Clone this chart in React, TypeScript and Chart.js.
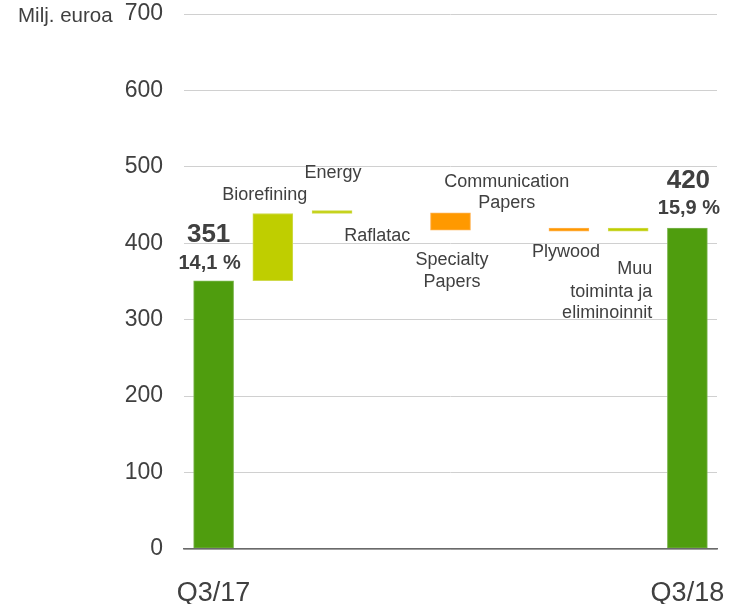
import React, { useEffect, useRef } from 'react';
import { Chart, registerables } from 'chart.js';

Chart.register(...registerables);

// ---- data ----
const categories = [
  'Q3/17',
  'Biorefining',
  'Energy',
  'Raflatac',
  'Specialty Papers',
  'Communication Papers',
  'Plywood',
  'Muu toiminta ja eliminoinnit',
  'Q3/18',
];
const xTickLabels = ['Q3/17', '', '', '', '', '', '', '', 'Q3/18'];
const totals: (number | null)[] = [351, null, null, null, null, null, null, null, 420];
const deltas: (number | null)[] = [null, 88, 1, 0, -23, 0, -1, 4, null];
const totalValueLabels = ['351', '', '', '', '', '', '', '', '420'];
const marginLabels = ['14,1 %', '', '', '', '', '', '', '', '15,9 %'];
const categoryLabelLines: string[][] = [
  [],
  ['Biorefining'],
  ['Energy'],
  ['Raflatac'],
  ['Specialty', 'Papers'],
  ['Communication', 'Papers'],
  ['Plywood'],
  ['Muu', 'toiminta ja', 'eliminoinnit'],
  [],
];
const yMin = 0;
const yMax = 700;
const yStep = 100;
const unitLabel = 'Milj. euroa';

// ---- styles ----
const FONT = "'Liberation Sans', Arial, sans-serif";
const TEXT = '#404040';
const C_TOTAL = '#4F9D0E';
const C_UP = '#BFCE00';
const C_DOWN = '#FF9900';
const B_TOTAL = '#7DB650';
const B_UP = '#CFDA4D';
const B_DOWN = '#FFB04D';

// label placement (pixel offsets from the category centre / bar edge)
type Place = { anchor: 'top' | 'bottom'; dx: number; dy: number[]; align: CanvasTextAlign };
const categoryLabelPlace: (Place | null)[] = [
  null,
  { anchor: 'top', dx: -8, dy: [-13], align: 'center' },
  { anchor: 'top', dx: 1, dy: [-35], align: 'center' },
  { anchor: 'top', dx: -14, dy: [28.5], align: 'center' },
  { anchor: 'bottom', dx: 1.5, dy: [35, 57], align: 'center' },
  { anchor: 'bottom', dx: -3, dy: [-43, -22], align: 'center' },
  { anchor: 'bottom', dx: -3, dy: [26], align: 'center' },
  { anchor: 'bottom', dx: 24, dy: [43, 66, 87], align: 'right' },
  null,
];
const totalLabelPlace = [
  { dx: -5, dyValue: -38.5, dxMargin: -4, dyMargin: -11.5 },
  null, null, null, null, null, null, null,
  { dx: 1, dyValue: -40, dxMargin: 1.5, dyMargin: -14 },
];

function buildBars() {
  const bars: ([number, number] | null)[] = [];
  const colors: string[] = [];
  const borders: string[] = [];
  let running = 0;
  for (let i = 0; i < categories.length; i++) {
    const t = totals[i];
    const d = deltas[i];
    if (t !== null && t !== undefined) {
      bars.push([0, t]);
      colors.push(C_TOTAL);
      borders.push(B_TOTAL);
      running = t;
    } else if (d !== null && d !== undefined && d !== 0) {
      bars.push([running, running + d]);
      colors.push(d > 0 ? C_UP : C_DOWN);
      borders.push(d > 0 ? B_UP : B_DOWN);
      running += d;
    } else {
      bars.push(null);
      colors.push(C_UP);
      borders.push(B_UP);
    }
  }
  return { bars, colors, borders };
}

function runningLevels() {
  const lv: { top: number; bottom: number }[] = [];
  let running = 0;
  for (let i = 0; i < categories.length; i++) {
    const t = totals[i];
    const d = deltas[i];
    if (t !== null && t !== undefined) {
      lv.push({ top: t, bottom: 0 });
      running = t;
    } else {
      const dd = d ?? 0;
      const a = running;
      const b = running + dd;
      lv.push({ top: Math.max(a, b), bottom: Math.min(a, b) });
      running = b;
    }
  }
  return lv;
}

const labelsPlugin = {
  id: 'wfLabels',
  afterDatasetsDraw(chart: any) {
    const ctx = chart.ctx as CanvasRenderingContext2D;
    const xs = chart.scales.x;
    const ys = chart.scales.y;
    const levels = runningLevels();
    ctx.save();
    ctx.fillStyle = TEXT;
    ctx.textBaseline = 'alphabetic';

    // unit label
    ctx.font = `20.5px ${FONT}`;
    ctx.textAlign = 'left';
    ctx.fillText(unitLabel, 18, ys.getPixelForValue(yMax) + 8);

    for (let i = 0; i < categories.length; i++) {
      const cx = xs.getPixelForValue(i);
      const place = categoryLabelPlace[i];
      const lines = categoryLabelLines[i];
      if (place && lines.length) {
        const v = place.anchor === 'top' ? levels[i].top : levels[i].bottom;
        const y0 = ys.getPixelForValue(v);
        ctx.font = `18px ${FONT}`;
        ctx.textAlign = place.align;
        lines.forEach((ln, k) => ctx.fillText(ln, cx + place.dx, y0 + place.dy[k]));
      }
      const tp = totalLabelPlace[i];
      if (tp) {
        const yTop = ys.getPixelForValue(levels[i].top);
        ctx.textAlign = 'center';
        ctx.font = `bold 26px ${FONT}`;
        ctx.fillText(totalValueLabels[i], cx + tp.dx, yTop + tp.dyValue);
        ctx.font = `bold 20px ${FONT}`;
        ctx.fillText(marginLabels[i], cx + tp.dxMargin, yTop + tp.dyMargin);
      }
    }
    ctx.restore();
  },
};

export default function App() {
  const ref = useRef<HTMLCanvasElement>(null);
  useEffect(() => {
    if (!ref.current) return;
    const { bars, colors, borders } = buildBars();
    const chart = new Chart(ref.current, {
      type: 'bar',
      data: {
        labels: categories,
        datasets: [
          {
            data: bars as any,
            backgroundColor: colors,
            borderColor: borders,
            borderWidth: 1,
            barThickness: 40,
            minBarLength: 3,
            borderSkipped: false,
          },
        ],
      },
      options: {
        animation: false,
        responsive: false,
        maintainAspectRatio: false,
        layout: { padding: { top: 14, right: 13, left: 0, bottom: 0 } },
        plugins: { legend: { display: false }, tooltip: { enabled: false } },
        scales: {
          x: {
            grid: { display: false, drawTicks: false },
            border: { display: true, color: '#6a6a6a', width: 1.5, z: 1 },
            ticks: {
              autoSkip: false,
              maxRotation: 0,
              padding: 28,
              color: TEXT,
              font: { family: FONT, size: 27 },
              callback: (_v: any, i: number) => xTickLabels[i],
            },
            afterFit: (s: any) => {
              s.height = 55;
              s.paddingLeft = 0;
              s.paddingRight = 0;
            },
          },
          y: {
            min: yMin,
            max: yMax,
            ticks: {
              stepSize: yStep,
              padding: 21,
              color: TEXT,
              font: { family: FONT, size: 23 },
            },
            grid: { color: '#d0d0d0', drawTicks: false, lineWidth: 1 },
            border: { display: false },
            afterFit: (s: any) => {
              s.width = 184;
              s.paddingTop = 0;
              s.paddingBottom = 0;
            },
          },
        },
      },
      plugins: [labelsPlugin],
    });
    return () => chart.destroy();
  }, []);
  return (
    <div style={{ position: 'fixed', left: 0, top: 0, width: 730, height: 604, background: '#fff' }}>
      <canvas ref={ref} width={730} height={604} style={{ width: 730, height: 604, display: 'block' }} />
    </div>
  );
}
